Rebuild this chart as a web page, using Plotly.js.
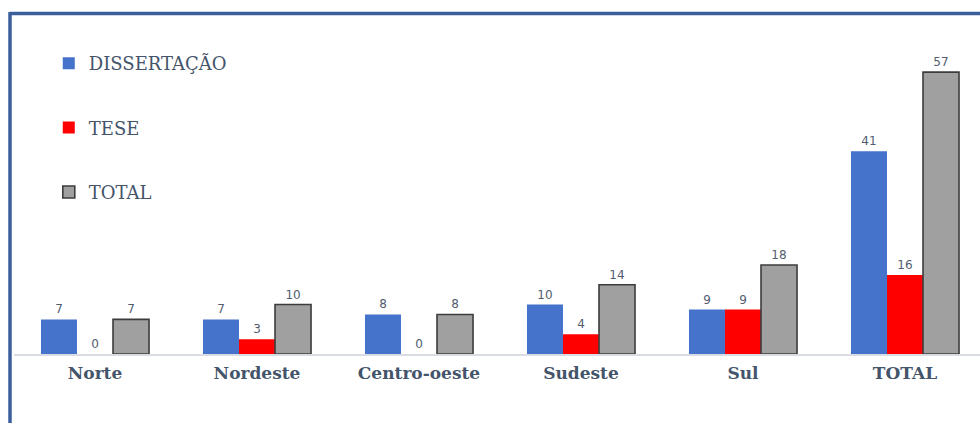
<!DOCTYPE html>
<html><head><meta charset="utf-8">
<script src="https://cdn.plot.ly/plotly-3.0.1.min.js"></script>
<style>html,body{margin:0;padding:0;background:#fff}</style>
</head><body>
<div id="chart" style="width:980px;height:423px"></div>
<script>
const categories = ["Norte", "Nordeste", "Centro-oeste", "Sudeste", "Sul", "TOTAL"];
const dissertacao = [7, 7, 8, 10, 9, 41];
const tese = [0, 3, 0, 4, 9, 16];
const total = [7, 10, 8, 14, 18, 57];
const seriesNames = ["DISSERTAÇÃO", "TESE", "TOTAL"];

const labelFont = {family: "DejaVu Sans, sans-serif", size: 12, color: "#525c70"};
function mk(name, y, color, line, grp) {
  return {
    type: "bar", name: name, x: categories, y: y,
    text: y.map(String), textposition: "outside", textfont: labelFont, outsidetextfont: labelFont,
    cliponaxis: false, legendgroup: grp,
    marker: {color: color, line: line}
  };
}
const data = [
  mk(seriesNames[0], dissertacao, "#4573cc", {width: 0}, "a"),
  mk(seriesNames[1], tese, "#ff0000", {width: 0}, "b"),
  mk(seriesNames[2], total, "#a0a0a0", {width: 1.6, color: "#3c3c3c"}, "c")
];
const layout = {
  width: 980, height: 423,
  margin: {l: 14, r: 0, t: 40, b: 69},
  paper_bgcolor: "#fff", plot_bgcolor: "#fff",
  barmode: "group", bargap: 0.333, bargroupgap: 0,
  showlegend: true,
  legend: {
    x: 0.036, xanchor: "left", y: 0.984, yanchor: "top",
    traceorder: "grouped", tracegroupgap: 38,
    font: {family: "DejaVu Serif, serif", size: 18, color: "#44546a"},
    bgcolor: "rgba(0,0,0,0)"
  },
  xaxis: {
    range: [-0.5, 5.463], showgrid: false, zeroline: false,
    showline: true, linecolor: "#d9dce3", linewidth: 1.5,
    ticks: "", ticklabelstandoff: 3,
    tickfont: {family: "DejaVu Serif, serif", size: 17, color: "#44546a", weight: "bold"}
  },
  yaxis: {range: [0, 63.5], visible: false, showgrid: false, zeroline: false},
  shapes: [
    {type: "line", xref: "paper", yref: "paper", x0: -4/966, x1: 1.02, y0: (354-13.5)/314, y1: (354-13.5)/314, line: {color: "#3b5e9c", width: 3.5}},
    {type: "line", xref: "paper", yref: "paper", x0: -4/966, x1: -4/966, y0: (354-12)/314, y1: -0.3, line: {color: "#3b5e9c", width: 3.5}}
  ]
};
Plotly.newPlot("chart", data, layout, {displayModeBar: false, staticPlot: true});
</script>
</body></html>
